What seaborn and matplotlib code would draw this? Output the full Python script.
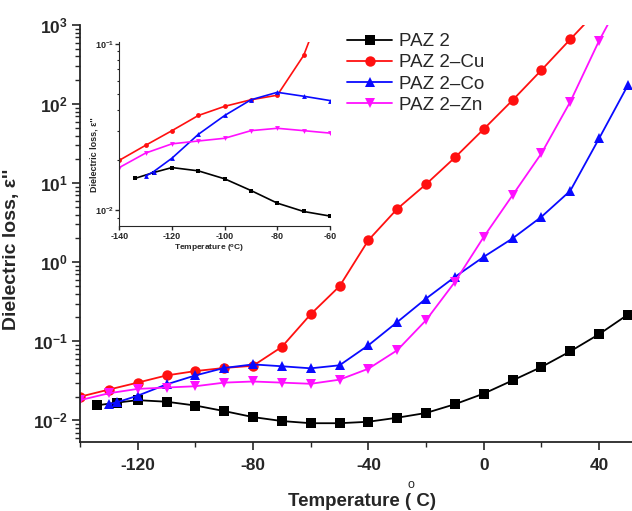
import numpy as np
import pandas as pd
import matplotlib
matplotlib.use("Agg")
import matplotlib.pyplot as plt
from matplotlib.ticker import MultipleLocator, LogLocator, NullFormatter, FixedLocator
import seaborn as sns

# ---- data: dielectric loss vs temperature ----
t_paz2 = [-134, -127, -120, -110, -100, -90, -80, -70, -60, -50, -40, -30, -20, -10, 0, 10, 20, 30, 40, 50]
e_paz2 = [0.0155, 0.0168, 0.018, 0.0172, 0.0154, 0.0131, 0.011, 0.0098, 0.0092, 0.0092,
          0.0096, 0.0108, 0.0124, 0.016, 0.0218, 0.032, 0.0473, 0.0746, 0.123, 0.218]

t_cu = [-140, -130, -120, -110, -100, -90, -80, -70, -60, -50, -40, -30, -20, -10, 0, 10, 20, 30, 40]
e_cu = [0.0199, 0.0245, 0.030, 0.037, 0.042, 0.046, 0.049, 0.085, 0.22, 0.497,
        1.9, 4.73, 9.7, 21.1, 48.3, 112, 269, 660, 1600]

t_co = [-130, -127, -120, -110, -100, -90, -80, -70, -60, -50, -40, -30, -20, -10, 0, 10, 20, 30, 40, 50]
e_co = [0.016, 0.017, 0.0205, 0.0285, 0.037, 0.046, 0.051, 0.0483, 0.0455, 0.0497,
        0.089, 0.175, 0.347, 0.652, 1.17, 2.0, 3.75, 8.0, 36.8, 174]

t_zn = [-140, -130, -120, -110, -100, -90, -80, -70, -60, -50, -40, -30, -20, -10, 0, 10, 20, 30, 40, 50]
e_zn = [0.018, 0.022, 0.025, 0.026, 0.027, 0.030, 0.031, 0.030, 0.029, 0.0327,
        0.045, 0.077, 0.185, 0.563, 2.09, 7.05, 23.8, 107, 634, 3000]

labels = ["PAZ 2", "PAZ 2\u2013Cu", "PAZ 2\u2013Co", "PAZ 2\u2013Zn"]
colors = ["black", "#ff1010", "#0a0aff", "#ff10ff"]
markers = ["s", "o", "^", "v"]
series = [(t_paz2, e_paz2), (t_cu, e_cu), (t_co, e_co), (t_zn, e_zn)]

sns.set_style("ticks")
plt.rcParams["font.family"] = ["Liberation Sans", "DejaVu Sans"]
plt.rcParams["mathtext.default"] = "regular"
plt.rcParams["axes.unicode_minus"] = False

fig = plt.figure(figsize=(6.32, 5.11), dpi=100)
W, H = 632, 511

# main axes
ax = fig.add_axes([80 / W, 1 - 441.7 / H, (632 - 80) / W, (441.7 - 25) / H])
ax.set_yscale("log")
for (t, e), lab, c, m in zip(series, labels, colors, markers):
    df = pd.DataFrame({"T": t, "eps": e})
    sns.lineplot(data=df, x="T", y="eps", ax=ax, color=c, marker=m, markersize=7.5,
                 markeredgewidth=0, linewidth=1.3, label=lab, sort=True)

ax.set_xlim(-140, 51.4)
ax.set_ylim(10 ** -2.27, 1000)
ax.xaxis.set_major_locator(MultipleLocator(40))
ax.xaxis.set_minor_locator(MultipleLocator(20))
ax.yaxis.set_major_locator(LogLocator(base=10, numticks=10))
ax.yaxis.set_minor_locator(LogLocator(base=10, subs=np.arange(2, 10), numticks=20))
ax.yaxis.set_minor_formatter(NullFormatter())
for s in ["top", "right"]:
    ax.spines[s].set_visible(False)
for s in ["left", "bottom"]:
    ax.spines[s].set_linewidth(1.3)
ax.tick_params(axis="both", which="major", direction="out", length=6, width=1.2,
               labelsize=12.5, pad=3)
ax.tick_params(axis="x", which="major", pad=6)
ax.tick_params(axis="both", which="minor", direction="out", length=3.5, width=1.0)
for lbl in ax.get_xticklabels() + ax.get_yticklabels():
    lbl.set_fontweight("bold")
ax.set_xlabel("Temperature ( C)", fontsize=13.5, fontweight="bold")
ax.xaxis.set_label_coords((361.5 - 80) / 552, -0.122)
ax.set_ylabel("Dielectric loss, \u03b5''", fontsize=14, fontweight="bold")
ax.yaxis.set_label_coords(-0.108, 0.462)
# raised degree mark above the gap in the axis title
fig.text(411 / W, 1 - 485 / H, "o", fontsize=9, ha="center", va="center")

leg = ax.legend(loc="upper left", bbox_to_anchor=(347 / W, 1 - 33 / H),
                bbox_transform=fig.transFigure, frameon=False, fontsize=13.5,
                handlelength=2.4, handletextpad=0.35, labelspacing=0.22,
                borderaxespad=0, borderpad=0)

# inset: low-temperature region
ins = fig.add_axes([119.3 / W, 1 - 226 / H, 210.7 / W, (226 - 42) / H])
ins.set_yscale("log")
for (t, e), c, m in zip(series, colors, markers):
    df = pd.DataFrame({"T": t, "eps": e})
    sns.lineplot(data=df, x="T", y="eps", ax=ins, color=c, marker=m, markersize=3.5,
                 markeredgewidth=0, linewidth=1.2, legend=False, sort=True)
ins.set_xlim(-140, -60)
ins.set_ylim(10 ** -2.096, 10 ** -0.99)
ins.xaxis.set_major_locator(MultipleLocator(20))
ins.yaxis.set_major_locator(FixedLocator([0.01, 0.1]))
ins.yaxis.set_minor_locator(LogLocator(base=10, subs=np.arange(2, 10), numticks=20))
ins.yaxis.set_minor_formatter(NullFormatter())
for s in ["top", "right"]:
    ins.spines[s].set_visible(False)
ins.tick_params(axis="both", which="major", direction="out", length=3, width=1.0,
                labelsize=6.5, pad=1)
ins.tick_params(axis="both", which="minor", direction="out", length=1.5, width=0.8)
for lbl in ins.get_xticklabels() + ins.get_yticklabels():
    lbl.set_fontweight("bold")
ins.set_xlabel(r"Temperature ($^{o}$C)", fontsize=6, fontweight="bold")
ins.xaxis.set_label_coords(0.426, -0.09)
ins.set_ylabel("Dielectric loss, \u03b5''", fontsize=6.5, fontweight="bold")
ins.yaxis.set_label_coords(-0.1, 0.39)
ins.patch.set_alpha(0)

fig.savefig("out.png", dpi=100)
